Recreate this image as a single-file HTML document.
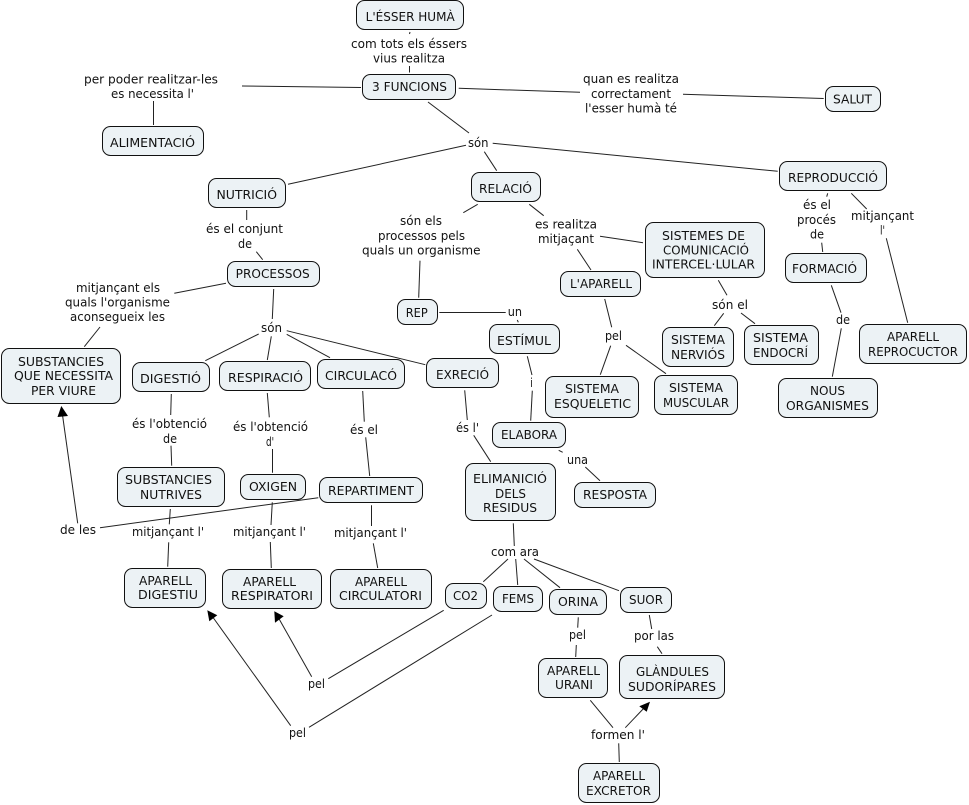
<!DOCTYPE html>
<html><head><meta charset="utf-8"><style>
html,body{margin:0;padding:0;background:#fff}
svg{display:block}
text{font-family:"DejaVu Sans","Liberation Sans",sans-serif;font-size:12px;fill:#111}
rect{fill:#ecf2f5;stroke:#111;stroke-width:1}
line{stroke:#222;stroke-width:1}
polygon{fill:#000}
</style></head><body>
<svg xmlns="http://www.w3.org/2000/svg" width="969" height="805" viewBox="0 0 969 805">
<g>
<line x1="410" y1="32" x2="409.5" y2="34"/>
<line x1="409.5" y1="66" x2="409.5" y2="72.5"/>
<line x1="242" y1="86" x2="361" y2="87.5"/>
<line x1="153.5" y1="101" x2="153.5" y2="125"/>
<line x1="458.7" y1="88.3" x2="580" y2="92.3"/>
<line x1="683" y1="94.3" x2="823.7" y2="98.5"/>
<line x1="428" y1="102" x2="469" y2="133"/>
<line x1="466" y1="145.3" x2="288" y2="184.3"/>
<line x1="484.3" y1="151.7" x2="496.7" y2="170.7"/>
<line x1="492.7" y1="143.3" x2="777.7" y2="171.3"/>
<line x1="827.7" y1="193.3" x2="826.7" y2="196.7"/>
<line x1="821.7" y1="242.7" x2="822.7" y2="252"/>
<line x1="851.3" y1="193.3" x2="866.7" y2="209"/>
<line x1="886.3" y1="238.3" x2="907.7" y2="322.7"/>
<line x1="477.7" y1="204.3" x2="463.3" y2="212.7"/>
<line x1="529.3" y1="204.3" x2="543.7" y2="215.7"/>
<line x1="600" y1="236.3" x2="643" y2="242.7"/>
<line x1="577.3" y1="249.3" x2="591" y2="270"/>
<line x1="420" y1="260.7" x2="418.7" y2="297.7"/>
<line x1="246.7" y1="210" x2="246.7" y2="220"/>
<line x1="256.3" y1="251.7" x2="262.7" y2="259.7"/>
<line x1="226" y1="283.3" x2="174.3" y2="293.3"/>
<line x1="100" y1="327" x2="84.3" y2="346.7"/>
<line x1="273.7" y1="289" x2="272.3" y2="319"/>
<line x1="258.7" y1="334" x2="205.3" y2="360.7"/>
<line x1="271.3" y1="336.3" x2="267.3" y2="360"/>
<line x1="286.7" y1="334.3" x2="330" y2="357.7"/>
<line x1="286.7" y1="330.7" x2="425.3" y2="364.7"/>
<line x1="439.3" y1="312.5" x2="505.7" y2="312.5"/>
<line x1="517.3" y1="320" x2="518.3" y2="322.3"/>
<line x1="604.7" y1="299" x2="611.7" y2="327.3"/>
<line x1="610.7" y1="345.7" x2="600.3" y2="374.7"/>
<line x1="626" y1="345.3" x2="666" y2="373.7"/>
<line x1="718.3" y1="280.3" x2="727" y2="295.3"/>
<line x1="723.7" y1="313.3" x2="714.3" y2="325.7"/>
<line x1="741" y1="313" x2="755" y2="323.7"/>
<line x1="831.3" y1="285.3" x2="841" y2="312.7"/>
<line x1="841.3" y1="328.3" x2="832.3" y2="376.7"/>
<line x1="527.3" y1="356.3" x2="532" y2="375"/>
<line x1="532.3" y1="390.7" x2="530.7" y2="420.7"/>
<line x1="558.7" y1="450.3" x2="562.7" y2="452.3"/>
<line x1="585.3" y1="467" x2="600" y2="480.7"/>
<line x1="171.3" y1="394" x2="170.7" y2="415"/>
<line x1="171" y1="445.7" x2="171.7" y2="465.7"/>
<line x1="267.3" y1="393" x2="269.3" y2="417.3"/>
<line x1="272.5" y1="449" x2="272.5" y2="472.7"/>
<line x1="362.7" y1="391" x2="364.3" y2="421.7"/>
<line x1="365.7" y1="437.3" x2="369.7" y2="476"/>
<line x1="464.7" y1="390.3" x2="467.3" y2="420"/>
<line x1="473.7" y1="435.3" x2="490.7" y2="461.7"/>
<line x1="170.3" y1="509" x2="169.3" y2="524.3"/>
<line x1="272.3" y1="502.3" x2="271" y2="525"/>
<line x1="371.5" y1="505.3" x2="371.5" y2="526"/>
<line x1="318.3" y1="497.7" x2="100" y2="527.7"/>
<line x1="168.7" y1="542.3" x2="167.7" y2="566.7"/>
<line x1="270.3" y1="542" x2="271.3" y2="568"/>
<line x1="373.3" y1="543.3" x2="377.7" y2="568"/>
<line x1="513.3" y1="523.3" x2="514.3" y2="546"/>
<line x1="508" y1="559" x2="483.3" y2="581.7"/>
<line x1="515.7" y1="559" x2="517.7" y2="585"/>
<line x1="524" y1="559" x2="560" y2="587.7"/>
<line x1="534" y1="559" x2="619" y2="590.7"/>
<line x1="578.3" y1="617.3" x2="577.7" y2="627.7"/>
<line x1="576.3" y1="645" x2="575.7" y2="657"/>
<line x1="649.3" y1="615" x2="651.7" y2="629"/>
<line x1="657.3" y1="646.7" x2="662" y2="653.7"/>
<line x1="590.3" y1="700.3" x2="613" y2="727.7"/>
<line x1="625.3" y1="727.7" x2="645" y2="707"/>
<line x1="618.7" y1="743.3" x2="619.3" y2="762"/>
<line x1="443.7" y1="610.3" x2="328.3" y2="678.7"/>
<line x1="311.7" y1="676.7" x2="278" y2="617"/>
<line x1="492" y1="615" x2="309" y2="727.3"/>
<line x1="290.7" y1="725.7" x2="212" y2="616"/>
<line x1="77.7" y1="523.3" x2="62.5" y2="415"/>
<polygon points="61.3,406 68,416 57.5,417"/>
<polygon points="207.3,610.3 217.3,615.3 209.3,621.3"/>
<polygon points="274.3,611.3 283.7,616.3 275,622.7"/>
<polygon points="650,701.7 639.3,706.3 646.7,711.7"/>
</g>
<g>
<rect x="356.5" y="0.5" width="107" height="29" rx="8"/>
<rect x="362.5" y="74.5" width="93" height="25" rx="8"/>
<rect x="102.5" y="126.5" width="101" height="29" rx="8"/>
<rect x="208.5" y="178.5" width="77" height="29" rx="8"/>
<rect x="471.5" y="172.5" width="69" height="29" rx="8"/>
<rect x="825.5" y="86.5" width="55" height="25" rx="8"/>
<rect x="779.5" y="161.5" width="107" height="29" rx="8"/>
<rect x="645.5" y="222.5" width="119" height="55" rx="8"/>
<rect x="785.5" y="253.5" width="81" height="29" rx="8"/>
<rect x="227.5" y="261.5" width="92" height="25" rx="8"/>
<rect x="560.5" y="271.5" width="80" height="25" rx="8"/>
<rect x="397.5" y="299.5" width="40" height="25" rx="8"/>
<rect x="489.5" y="324.5" width="70" height="29" rx="8"/>
<rect x="662.5" y="327.5" width="71" height="39" rx="8"/>
<rect x="744.5" y="325.5" width="74" height="39" rx="8"/>
<rect x="859.5" y="324.5" width="107" height="39" rx="8"/>
<rect x="1.5" y="348.5" width="119" height="55" rx="8"/>
<rect x="132.5" y="362.5" width="77" height="29" rx="8"/>
<rect x="219.5" y="361.5" width="91" height="29" rx="8"/>
<rect x="317.5" y="359.5" width="87" height="29" rx="8"/>
<rect x="426.5" y="358.5" width="72" height="29" rx="8"/>
<rect x="545.5" y="376.5" width="93" height="41" rx="8"/>
<rect x="654.5" y="375.5" width="83" height="39" rx="8"/>
<rect x="778.5" y="378.5" width="99" height="39" rx="8"/>
<rect x="492.5" y="422.5" width="73" height="25" rx="8"/>
<rect x="465.5" y="463.5" width="90" height="57" rx="8"/>
<rect x="574.5" y="482.5" width="81" height="25" rx="8"/>
<rect x="117.5" y="467.5" width="107" height="39" rx="8"/>
<rect x="240.5" y="474.5" width="65" height="25" rx="8"/>
<rect x="319.5" y="477.5" width="103" height="25" rx="8"/>
<rect x="124.5" y="568.5" width="81" height="39" rx="8"/>
<rect x="222.5" y="569.5" width="99" height="39" rx="8"/>
<rect x="330.5" y="569.5" width="101" height="39" rx="8"/>
<rect x="445.5" y="583.5" width="41" height="25" rx="8"/>
<rect x="493.5" y="586.5" width="49" height="25" rx="8"/>
<rect x="549.5" y="589.5" width="57" height="25" rx="8"/>
<rect x="620.5" y="587.5" width="51" height="25" rx="8"/>
<rect x="538.5" y="658.5" width="69" height="39" rx="8"/>
<rect x="619.5" y="655.5" width="105" height="43" rx="8"/>
<rect x="578.5" y="763.5" width="81" height="39" rx="8"/>
</g>
<g>
<text x="365.7" y="21" textLength="89" lengthAdjust="spacingAndGlyphs">L'ÉSSER HUMÀ</text>
<text x="351" y="48" textLength="116" lengthAdjust="spacingAndGlyphs">com tots els éssers</text>
<text x="373" y="62.5" textLength="72" lengthAdjust="spacingAndGlyphs">vius realitza</text>
<text x="372" y="91" textLength="75" lengthAdjust="spacingAndGlyphs">3 FUNCIONS</text>
<text x="84" y="83.5" textLength="134" lengthAdjust="spacingAndGlyphs">per poder realitzar-les</text>
<text x="111" y="98" textLength="83" lengthAdjust="spacingAndGlyphs">es necessita l'</text>
<text x="110" y="147" textLength="85" lengthAdjust="spacingAndGlyphs">ALIMENTACIÓ</text>
<text x="468" y="147" textLength="20.5" lengthAdjust="spacingAndGlyphs">són</text>
<text x="216.5" y="199" textLength="60.5" lengthAdjust="spacingAndGlyphs">NUTRICIÓ</text>
<text x="479" y="193" textLength="53" lengthAdjust="spacingAndGlyphs">RELACIÓ</text>
<text x="583" y="83" textLength="96" lengthAdjust="spacingAndGlyphs">quan es realitza</text>
<text x="591" y="98" textLength="80" lengthAdjust="spacingAndGlyphs">correctament</text>
<text x="585" y="112.5" textLength="92" lengthAdjust="spacingAndGlyphs">l'esser humà té</text>
<text x="833" y="103.5" textLength="39" lengthAdjust="spacingAndGlyphs">SALUT</text>
<text x="788" y="182" textLength="90" lengthAdjust="spacingAndGlyphs">REPRODUCCIÓ</text>
<text x="803" y="209" textLength="28" lengthAdjust="spacingAndGlyphs">és el</text>
<text x="797" y="224" textLength="39" lengthAdjust="spacingAndGlyphs">procés</text>
<text x="810" y="238.5" textLength="14" lengthAdjust="spacingAndGlyphs">de</text>
<text x="851" y="220" textLength="63" lengthAdjust="spacingAndGlyphs">mitjançant</text>
<text x="880" y="234.7" textLength="5" lengthAdjust="spacingAndGlyphs">l'</text>
<text x="206" y="233" textLength="77" lengthAdjust="spacingAndGlyphs">és el conjunt</text>
<text x="238" y="248" textLength="14" lengthAdjust="spacingAndGlyphs">de</text>
<text x="400" y="225" textLength="42" lengthAdjust="spacingAndGlyphs">són els</text>
<text x="378" y="240" textLength="87" lengthAdjust="spacingAndGlyphs">processos pels</text>
<text x="362" y="254.5" textLength="118.5" lengthAdjust="spacingAndGlyphs">quals un organisme</text>
<text x="535" y="228.7" textLength="62" lengthAdjust="spacingAndGlyphs">es realitza</text>
<text x="538" y="243" textLength="56" lengthAdjust="spacingAndGlyphs">mitjaçant</text>
<text x="662" y="240" textLength="83" lengthAdjust="spacingAndGlyphs">SISTEMES DE</text>
<text x="663" y="254.5" textLength="86" lengthAdjust="spacingAndGlyphs">COMUNICACIÓ</text>
<text x="652" y="268.7" textLength="103" lengthAdjust="spacingAndGlyphs">INTERCEL·LULAR</text>
<text x="792" y="273" textLength="65" lengthAdjust="spacingAndGlyphs">FORMACIÓ</text>
<text x="235.7" y="278" textLength="74" lengthAdjust="spacingAndGlyphs">PROCESSOS</text>
<text x="76" y="292" textLength="84" lengthAdjust="spacingAndGlyphs">mitjançant els</text>
<text x="65" y="306.7" textLength="105" lengthAdjust="spacingAndGlyphs">quals l'organisme</text>
<text x="70" y="321" textLength="95" lengthAdjust="spacingAndGlyphs">aconsegueix les</text>
<text x="261" y="332" textLength="21" lengthAdjust="spacingAndGlyphs">són</text>
<text x="405.7" y="317" textLength="22" lengthAdjust="spacingAndGlyphs">REP</text>
<text x="507.7" y="316" textLength="14.3" lengthAdjust="spacingAndGlyphs">un</text>
<text x="497" y="345" textLength="54" lengthAdjust="spacingAndGlyphs">ESTÍMUL</text>
<text x="570" y="288" textLength="62" lengthAdjust="spacingAndGlyphs">L'APARELL</text>
<text x="712" y="309" textLength="36" lengthAdjust="spacingAndGlyphs">són el</text>
<text x="671" y="344" textLength="54" lengthAdjust="spacingAndGlyphs">SISTEMA</text>
<text x="671" y="359" textLength="54" lengthAdjust="spacingAndGlyphs">NERVIÓS</text>
<text x="753" y="342" textLength="55" lengthAdjust="spacingAndGlyphs">SISTEMA</text>
<text x="753" y="357" textLength="55" lengthAdjust="spacingAndGlyphs">ENDOCRÍ</text>
<text x="887" y="341" textLength="52" lengthAdjust="spacingAndGlyphs">APARELL</text>
<text x="868" y="356" textLength="90" lengthAdjust="spacingAndGlyphs">REPROCUCTOR</text>
<text x="836" y="324" textLength="14" lengthAdjust="spacingAndGlyphs">de</text>
<text x="605" y="340" textLength="17" lengthAdjust="spacingAndGlyphs">pel</text>
<text x="565" y="393" textLength="54" lengthAdjust="spacingAndGlyphs">SISTEMA</text>
<text x="554" y="408" textLength="77" lengthAdjust="spacingAndGlyphs">ESQUELETIC</text>
<text x="669" y="392" textLength="54" lengthAdjust="spacingAndGlyphs">SISTEMA</text>
<text x="663" y="407" textLength="66" lengthAdjust="spacingAndGlyphs">MUSCULAR</text>
<text x="810" y="395" textLength="35" lengthAdjust="spacingAndGlyphs">NOUS</text>
<text x="786" y="410" textLength="83" lengthAdjust="spacingAndGlyphs">ORGANISMES</text>
<text x="530.3" y="387" textLength="2.6" lengthAdjust="spacingAndGlyphs">i</text>
<text x="501" y="439" textLength="56" lengthAdjust="spacingAndGlyphs">ELABORA</text>
<text x="567" y="464" textLength="21" lengthAdjust="spacingAndGlyphs">una</text>
<text x="583" y="499" textLength="64" lengthAdjust="spacingAndGlyphs">RESPOSTA</text>
<text x="18" y="366" textLength="86" lengthAdjust="spacingAndGlyphs">SUBSTANCIES</text>
<text x="14" y="380" textLength="99" lengthAdjust="spacingAndGlyphs">QUE NECESSITA</text>
<text x="31" y="395" textLength="65" lengthAdjust="spacingAndGlyphs">PER VIURE</text>
<text x="140" y="383" textLength="61" lengthAdjust="spacingAndGlyphs">DIGESTIÓ</text>
<text x="228" y="382" textLength="75" lengthAdjust="spacingAndGlyphs">RESPIRACIÓ</text>
<text x="325" y="380" textLength="72" lengthAdjust="spacingAndGlyphs">CIRCULACÓ</text>
<text x="436" y="379" textLength="53" lengthAdjust="spacingAndGlyphs">EXRECIÓ</text>
<text x="132" y="428" textLength="75" lengthAdjust="spacingAndGlyphs">és l'obtenció</text>
<text x="163" y="443" textLength="14" lengthAdjust="spacingAndGlyphs">de</text>
<text x="233" y="431" textLength="75" lengthAdjust="spacingAndGlyphs">és l'obtenció</text>
<text x="266" y="446" textLength="8" lengthAdjust="spacingAndGlyphs">d'</text>
<text x="350" y="434" textLength="28" lengthAdjust="spacingAndGlyphs">és el</text>
<text x="456" y="432" textLength="23" lengthAdjust="spacingAndGlyphs">és l'</text>
<text x="125" y="484" textLength="87" lengthAdjust="spacingAndGlyphs">SUBSTANCIES</text>
<text x="140" y="499" textLength="62" lengthAdjust="spacingAndGlyphs">NUTRIVES</text>
<text x="249" y="491" textLength="48" lengthAdjust="spacingAndGlyphs">OXIGEN</text>
<text x="328" y="495" textLength="86" lengthAdjust="spacingAndGlyphs">REPARTIMENT</text>
<text x="473" y="483" textLength="74" lengthAdjust="spacingAndGlyphs">ELIMANICIÓ</text>
<text x="495" y="498" textLength="31" lengthAdjust="spacingAndGlyphs">DELS</text>
<text x="483" y="512" textLength="54" lengthAdjust="spacingAndGlyphs">RESIDUS</text>
<text x="60" y="534" textLength="36" lengthAdjust="spacingAndGlyphs">de les</text>
<text x="132" y="536" textLength="72" lengthAdjust="spacingAndGlyphs">mitjançant l'</text>
<text x="233" y="536" textLength="73" lengthAdjust="spacingAndGlyphs">mitjançant l'</text>
<text x="334" y="537" textLength="73" lengthAdjust="spacingAndGlyphs">mitjançant l'</text>
<text x="491" y="556" textLength="48" lengthAdjust="spacingAndGlyphs">com ara</text>
<text x="139" y="585" textLength="53" lengthAdjust="spacingAndGlyphs">APARELL</text>
<text x="138" y="599" textLength="60" lengthAdjust="spacingAndGlyphs">DIGESTIU</text>
<text x="243" y="586" textLength="53" lengthAdjust="spacingAndGlyphs">APARELL</text>
<text x="231" y="600" textLength="82" lengthAdjust="spacingAndGlyphs">RESPIRATORI</text>
<text x="355" y="586" textLength="52" lengthAdjust="spacingAndGlyphs">APARELL</text>
<text x="339" y="600" textLength="83" lengthAdjust="spacingAndGlyphs">CIRCULATORI</text>
<text x="453" y="600" textLength="25" lengthAdjust="spacingAndGlyphs">CO2</text>
<text x="502" y="603" textLength="32" lengthAdjust="spacingAndGlyphs">FEMS</text>
<text x="558" y="606" textLength="40" lengthAdjust="spacingAndGlyphs">ORINA</text>
<text x="629" y="604" textLength="34" lengthAdjust="spacingAndGlyphs">SUOR</text>
<text x="569" y="639" textLength="17" lengthAdjust="spacingAndGlyphs">pel</text>
<text x="634" y="640" textLength="40" lengthAdjust="spacingAndGlyphs">por las</text>
<text x="547" y="675" textLength="53" lengthAdjust="spacingAndGlyphs">APARELL</text>
<text x="555" y="689" textLength="38" lengthAdjust="spacingAndGlyphs">URANI</text>
<text x="636" y="676" textLength="73" lengthAdjust="spacingAndGlyphs">GLÀNDULES</text>
<text x="628" y="691" textLength="88" lengthAdjust="spacingAndGlyphs">SUDORÍPARES</text>
<text x="591" y="739" textLength="54" lengthAdjust="spacingAndGlyphs">formen l'</text>
<text x="593" y="780" textLength="52" lengthAdjust="spacingAndGlyphs">APARELL</text>
<text x="586" y="795" textLength="65" lengthAdjust="spacingAndGlyphs">EXCRETOR</text>
<text x="308" y="688" textLength="17" lengthAdjust="spacingAndGlyphs">pel</text>
<text x="289" y="737" textLength="17" lengthAdjust="spacingAndGlyphs">pel</text>
</g>
</svg>
</body></html>
